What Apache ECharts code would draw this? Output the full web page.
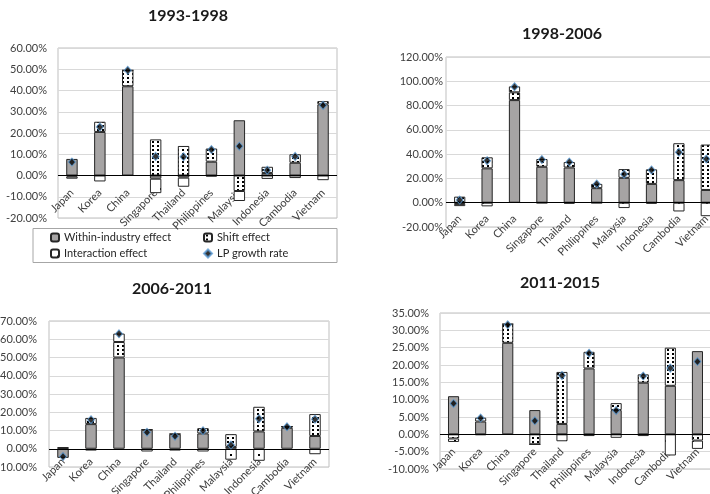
<!DOCTYPE html>
<html>
<head>
<meta charset="utf-8">
<script src="https://cdn.jsdelivr.net/npm/echarts@6/dist/echarts.min.js"></script>
<style>html,body{margin:0;padding:0;background:#fff}#c{width:710px;height:494px}</style>
</head>
<body>
<div id="c"></div>
<script>
// ---- data ----
const categories = ['Japan','Korea','China','Singapore','Thailand','Philippines','Malaysia','Indonesia','Cambodia','Vietnam'];
const periods = ['1993-1998','1998-2006','2006-2011','2011-2015'];

const within1 = [7.8, 20.5, 42.0, -1.5, -1.0, 6.5, 26.0, 1.2, 6.0, 33.5];
const shift1  = [-0.5, 4.8, 7.5, 17.0, 13.9, 6.2, -7.3, 2.9, 4.0, 1.5];
const inter1  = [-1.0, -2.8, 0.0, -6.8, -4.3, -0.5, -4.7, -1.6, -1.2, -2.2];
const lp1     = [6.3, 22.8, 49.5, 9.0, 8.8, 12.2, 13.8, 2.5, 9.0, 33.0];

const within2 = [-1.0, 28.3, 84.5, 29.6, 29.0, 12.0, 20.5, 15.5, 18.6, 10.5];
const shift2  = [5.0, 9.1, 6.4, 6.4, 4.5, 3.5, 7.2, 12.0, 30.4, 37.4];
const inter2  = [-1.8, -3.0, 4.9, -0.3, -0.8, -0.3, -4.4, -0.8, -7.2, -11.1];
const lp2     = [2.2, 34.6, 95.5, 35.5, 33.5, 15.5, 23.5, 27.0, 41.5, 36.0];

const within3 = [-5.0, 13.5, 50.0, 10.4, 8.0, 8.4, 1.0, 9.5, 11.5, 7.0];
const shift3  = [0.4, 3.4, 8.5, 0.2, 0.2, 2.9, 7.0, 13.5, 0.7, 12.0];
const inter3  = [0.4, -1.0, 4.6, -1.5, -1.0, -1.5, -6.0, -6.6, 0.0, -3.0];
const lp3     = [-4.3, 15.9, 63.0, 9.0, 6.9, 9.9, 2.0, 16.5, 12.0, 16.1];

const within4 = [11.0, 3.7, 26.4, 7.0, 3.0, 19.0, 7.0, 14.9, 14.0, 24.0];
const shift4  = [-1.2, 1.1, 5.4, -2.9, 15.0, 4.8, 2.0, 2.4, 11.0, -1.8];
const inter4  = [-1.0, -0.2, 0.0, 0.0, -2.0, -0.5, -1.0, -0.5, -6.1, -2.4];
const lp4     = [8.9, 4.7, 31.6, 3.9, 17.0, 23.4, 6.9, 16.8, 19.1, 21.0];

const yMin = [-20, -20, -10, -10];
const yMax = [60, 120, 70, 35];
const yStep = [10, 20, 10, 5];

const withinAll = [within1, within2, within3, within4];
const shiftAll = [shift1, shift2, shift3, shift4];
const interAll = [inter1, inter2, inter3, inter4];
const lpAll = [lp1, lp2, lp3, lp4];

// ---- layout / style ----
const grids = [
  {left: 58, top: 48, width: 279, height: 170},
  {left: 446, top: 57, width: 274, height: 170},
  {left: 49, top: 321, width: 280, height: 146},
  {left: 440, top: 313, width: 271, height: 156}
];
const yLabelMargin = [11, 3, 12, 11];
const xLabelMargin = [-27, -10, -7, -19];
const titlePos = [[188, 8], [562, 26], [172, 281], [560, 275]];

function makePattern(w, h, dots) {
  const c = document.createElement('canvas');
  c.width = w; c.height = h;
  const ctx = c.getContext('2d');
  ctx.fillStyle = '#ffffff'; ctx.fillRect(0, 0, w, h);
  ctx.fillStyle = '#000000';
  dots.forEach(d => ctx.fillRect(d[0], d[1], d[2], d[3]));
  return c;
}
const shiftPattern = {image: makePattern(5, 4, [[2, 1, 2, 2]]), repeat: 'repeat'};
const interPattern = {image: makePattern(14, 14, [[6, 6, 2, 2]]), repeat: 'repeat'};

const FONT = 'Lato';
const barBorder = {borderColor: '#262626', borderWidth: 1};
const names = ['Within-industry effect', 'Shift effect', 'Interaction effect', 'LP growth rate'];

const series = [];
for (let i = 0; i < 4; i++) {
  series.push({
    name: names[0], type: 'bar', xAxisIndex: i, yAxisIndex: i, stack: 'p' + i,
    barWidth: '41%', data: withinAll[i],
    itemStyle: Object.assign({color: '#a6a4a4'}, barBorder),
    markLine: {silent: true, symbol: 'none', label: {show: false}, z: 5,
      lineStyle: {color: '#000', width: 1, type: 'solid'}, data: [{yAxis: 0}]}
  });
  series.push({
    name: names[1], type: 'bar', xAxisIndex: i, yAxisIndex: i, stack: 'p' + i,
    barWidth: '41%', data: shiftAll[i],
    itemStyle: Object.assign({color: shiftPattern}, barBorder)
  });
  series.push({
    name: names[2], type: 'bar', xAxisIndex: i, yAxisIndex: i, stack: 'p' + i,
    barWidth: '41%', data: interAll[i],
    itemStyle: Object.assign({color: interPattern}, barBorder)
  });
  series.push({
    name: names[3], type: 'scatter', xAxisIndex: i, yAxisIndex: i, z: 10,
    symbol: 'diamond', symbolSize: [7, 8], data: lpAll[i],
    itemStyle: {color: '#000', borderColor: '#5b9bd5', borderWidth: 1}
  });
}

const legendPos = [[50, 232], [203, 232], [50, 248], [203, 248]];
const legends = names.map((n, k) => ({
  data: [n], left: legendPos[k][0], top: legendPos[k][1], padding: 0,
  itemWidth: 8, itemHeight: 8, selectedMode: false,
  textStyle: {fontFamily: FONT, fontSize: 11, color: '#262626'}
}));

const option = {
  animation: false,
  textStyle: {fontFamily: FONT},
  title: periods.map((p, i) => ({
    text: p, left: titlePos[i][0], top: titlePos[i][1], textAlign: 'center', padding: 0,
    textStyle: {fontFamily: FONT, fontSize: 16, fontWeight: 'bold', color: '#1a1a1a'}
  })),
  legend: legends,
  graphic: [{type: 'rect', shape: {x: 33, y: 228.5, width: 304, height: 34},
    style: {fill: 'none', stroke: '#a6a6a6', lineWidth: 1}, silent: true}],
  grid: grids.map(g => Object.assign({show: true, borderColor: '#bfbfbf', borderWidth: 1,
    containLabel: false, outerBoundsMode: 'none'}, g)),
  xAxis: grids.map((g, i) => ({
    type: 'category', gridIndex: i, data: categories,
    axisLine: {show: false}, axisTick: {show: false},
    axisLabel: {rotate: 45, interval: 0, fontFamily: FONT, fontSize: 11, color: '#404040', margin: xLabelMargin[i]}
  })),
  yAxis: grids.map((g, i) => ({
    type: 'value', gridIndex: i, min: yMin[i], max: yMax[i], interval: yStep[i],
    axisLine: {show: false}, axisTick: {show: false},
    splitLine: {lineStyle: {color: '#d9d9d9', width: 1}},
    axisLabel: {fontFamily: FONT, fontSize: 11, color: '#404040', margin: yLabelMargin[i],
      formatter: v => v.toFixed(2) + '%'}
  })),
  series: series
};

const chart = echarts.init(document.getElementById('c'), null, {renderer: 'canvas'});
chart.setOption(option);
</script>
</body>
</html>
